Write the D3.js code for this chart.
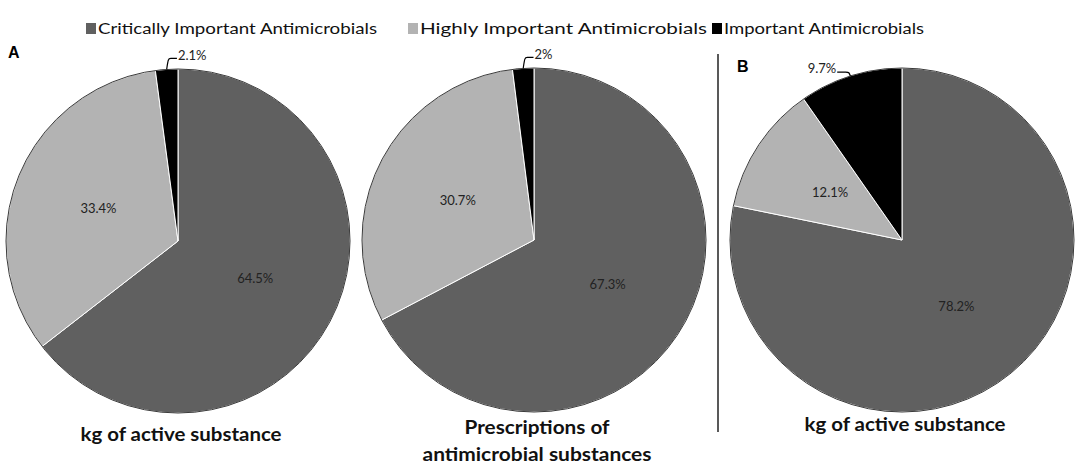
<!DOCTYPE html>
<html>
<head>
<meta charset="utf-8">
<script src="https://cdn.jsdelivr.net/npm/d3@7"></script>
<style>
  body { margin: 0; background: #fff; }
  svg { display: block; font-family: Lato, "Open Sans", sans-serif; }
</style>
</head>
<body>
<svg></svg>
<script>
const svg = d3.select("svg").attr("width", 1084).attr("height", 474);

// data
const categories = ["Critically Important Antimicrobials", "Highly Important Antimicrobials", "Important Antimicrobials"];
const kgA = [64.5, 33.4, 2.1];
const prescriptionsA = [67.3, 30.7, 2];
const kgB = [78.2, 12.1, 9.7];
const labelsA1 = ["64.5%", "33.4%", "2.1%"];
const labelsA2 = ["67.3%", "30.7%", "2%"];
const labelsB = ["78.2%", "12.1%", "9.7%"];

const color = d3.scaleOrdinal().domain(categories).range(["#606060", "#b3b3b3", "#000000"]);

const r = 172;
const pie = d3.pie().sort(null).value((d) => d.value);
const arc = d3.arc().innerRadius(0).outerRadius(r);

const charts = [
  { values: kgA, labels: labelsA1, cx: 178, cy: 241, title: ["kg of active substance"], ty: 434, side: "right" },
  { values: prescriptionsA, labels: labelsA2, cx: 534, cy: 240, title: ["Prescriptions of", "antimicrobial substances"], ty: 427, side: "right" },
  { values: kgB, labels: labelsB, cx: 902, cy: 240, title: ["kg of active substance"], ty: 424, side: "left" }
];
const titleWidths = { "kg of active substance": 201, "Prescriptions of": 145, "antimicrobial substances": 229 };

charts.forEach((c) => {
  const data = c.values.map((v, i) => ({ cat: categories[i], value: v, label: c.labels[i] }));
  const g = svg.append("g").attr("transform", `translate(${c.cx},${c.cy})`);
  const arcs = pie(data);

  g.selectAll("path.slice")
    .data(arcs)
    .enter()
    .append("path")
    .attr("class", "slice")
    .attr("d", arc)
    .attr("fill", (d) => color(d.data.cat))
    .attr("stroke", "#fff")
    .attr("stroke-width", 1);

  g.append("circle").attr("r", r).attr("fill", "none").attr("stroke", "#3a3a3a").attr("stroke-width", 1);

  // inside labels
  const inner = d3.arc().innerRadius(r * 0.5).outerRadius(r * 0.5);
  g.selectAll("text.in")
    .data(arcs.filter((d) => d.data.value >= 5 && !(c.side === "left" && d.index === 2)))
    .enter()
    .append("text")
    .attr("class", "in")
    .attr("transform", (d) => `translate(${inner.centroid(d)})`)
    .attr("text-anchor", "middle")
    .attr("dy", "0.35em")
    .attr("font-size", 13)
    .attr("fill", "#222")
    .text((d) => d.data.label);

  // outside labels with leader
  const outside = arcs.filter((d) => d.data.value < 5 || (c.side === "left" && d.index === 2));
  outside.forEach((d) => {
    const a = (d.startAngle + d.endAngle) / 2;
    const p0 = [Math.sin(a) * r, -Math.cos(a) * r];
    const rr = c.side === "right" ? r + 11 : r + 4;
    const p1 = [Math.sin(a) * rr + (c.side === "right" ? 4 : -2), -Math.cos(a) * rr];
    const p2 = [p1[0] + (c.side === "right" ? 7 : -10), p1[1]];
    g.append("path")
      .attr("d", d3.line().curve(d3.curveBasis)([p0, [p0[0] + (p1[0] - p0[0]) * 0.5, p1[1]], p1, p2]))
      .attr("fill", "none")
      .attr("stroke", "#000")
      .attr("stroke-width", 1.2);
    g.append("text")
      .attr("x", p2[0] + (c.side === "right" ? 1 : -1))
      .attr("y", p2[1])
      .attr("dy", "0.1em")
      .attr("text-anchor", c.side === "right" ? "start" : "end")
      .attr("font-size", 13)
      .attr("fill", "#222")
      .text(d.data.label);
  });

  // title
  c.title.forEach((t, i) => {
    svg.append("text")
      .attr("x", c.cx + 3)
      .attr("y", c.ty + i * 27)
      .attr("dy", "0.35em")
      .attr("text-anchor", "middle")
      .attr("font-size", 19)
      .attr("font-weight", "bold")
      .attr("textLength", titleWidths[t])
      .attr("lengthAdjust", "spacingAndGlyphs")
      .attr("fill", "#111")
      .text(t);
  });
});

// legend
const legendX = [86, 408, 712];
const legendW = [283, 291, 204];
const legend = svg.append("g").attr("transform", "translate(0,28)");
legend
  .selectAll(".legend-item")
  .data(categories)
  .enter()
  .append("g")
  .attr("class", "legend-item")
  .attr("transform", (d, i) => `translate(${legendX[i]},0)`)
  .each(function (d, i) {
    d3.select(this)
      .append("rect")
      .attr("x", 0)
      .attr("y", -5)
      .attr("width", 10)
      .attr("height", 11)
      .attr("fill", color(d));
    d3.select(this)
      .append("text")
      .attr("x", 12)
      .attr("dy", "0.35em")
      .attr("font-size", 16)
      .attr("textLength", legendW[i] - 4)
      .attr("lengthAdjust", "spacingAndGlyphs")
      .attr("fill", "#111")
      .text(d);
  });

// panel letters and divider
svg.append("text").attr("x", 8).attr("y", 58).attr("font-size", 16).attr("font-weight", "bold")
  .attr("font-family", "Liberation Sans, Arial, sans-serif").text("A");
svg.append("text").attr("x", 737).attr("y", 72).attr("font-size", 16).attr("font-weight", "bold")
  .attr("font-family", "Liberation Sans, Arial, sans-serif").text("B");
svg.append("line").attr("x1", 718).attr("x2", 718).attr("y1", 54).attr("y2", 432)
  .attr("stroke", "#222").attr("stroke-width", 1.5);
</script>
</body>
</html>
